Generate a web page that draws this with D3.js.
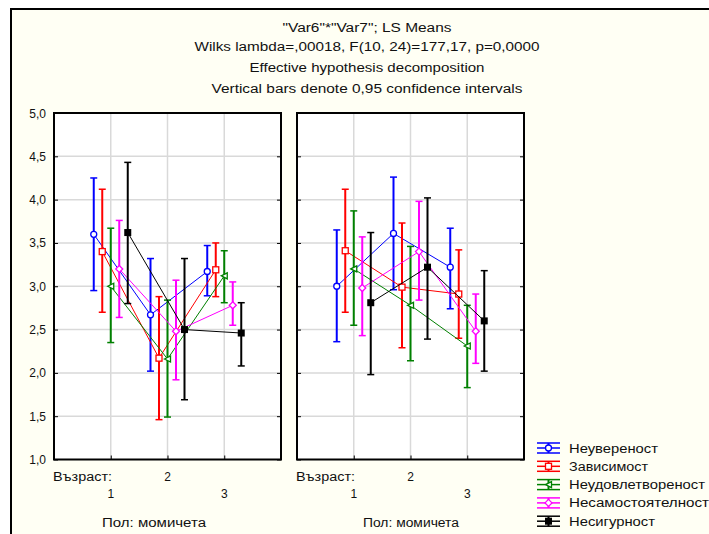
<!DOCTYPE html>
<html><head><meta charset="utf-8">
<script src="https://cdn.jsdelivr.net/npm/d3@7"></script>
<style>body{margin:0;background:#fff}svg{display:block}text{font-family:"Liberation Sans",Arial,sans-serif;fill:#111}</style>
</head><body>
<svg id="c" width="709" height="534"></svg>
<script>
const titleLines = ["\"Var6\"*\"Var7\"; LS Means","Wilks lambda=,00018, F(10, 24)=177,17, p=0,0000","Effective hypothesis decomposition","Vertical bars denote 0,95 confidence intervals"];
const categories = ["1","2","3"];
const series = ["Неувереност","Зависимост","Неудовлетвореност","Несамостоятелност","Несигурност"];
const colors = ["#0000ff","#ff0000","#008000","#ff00ff","#000000"];
const markers = ["circle","square","triangle","diamond","filled"];
const yTicks = [1,1.5,2,2.5,3,3.5,4,4.5,5];
const panelLabels = ["Пол: момичета","Пол: момичета"];
// left panel
const meanL = [[3.60,2.67,3.17],[3.40,2.17,3.19],[3.00,2.16,3.12],[3.20,2.48,2.78],[3.62,2.50,2.46]];
const lowL  = [[2.95,2.02,2.89],[2.70,1.46,2.88],[2.35,1.49,2.81],[2.64,1.92,2.55],[2.80,1.69,2.08]];
const highL = [[4.25,3.32,3.47],[4.12,2.88,3.50],[3.67,2.84,3.41],[3.76,3.07,3.05],[4.43,3.32,2.81]];
// right panel
const meanR = [[3.00,3.61,3.22],[3.41,2.99,2.91],[3.20,2.78,2.31],[2.98,3.40,2.48],[2.81,3.22,2.60]];
const lowR  = [[2.36,2.96,2.74],[2.70,2.29,2.40],[2.55,2.14,1.83],[2.43,2.84,2.11],[1.98,2.39,2.02]];
const highR = [[3.65,4.26,3.67],[4.12,3.73,3.42],[3.87,3.46,2.78],[3.57,3.98,2.91],[3.62,4.02,3.18]];

(function(){
const svg = d3.select("#c");
svg.append("rect").attr("x",11).attr("y",9).attr("width",720).attr("height",540)
  .attr("fill","#fffff4").attr("stroke","#000").attr("stroke-width",2);

const titleY=[28,47,68,89], titleW=[169,345,235,311];
titleLines.forEach((t,i)=>svg.append("text").attr("x",367).attr("y",titleY[i]+4)
  .attr("text-anchor","middle").attr("font-size",12).attr("textLength",titleW[i])
  .attr("lengthAdjust","spacingAndGlyphs").text(t));

const pTop=113, pBottom=459.5;
const y = d3.scaleLinear().domain([1,5]).range([pBottom,pTop]);
const panels=[{x0:54,x1:281,m:meanL,lo:lowL,hi:highL,labX:154,labW:104},
              {x0:297,x1:524,m:meanR,lo:lowR,hi:highR,labX:411,labW:96}];
const off = d3.scalePoint().domain(series).range([-17,17]);

function drawMarker(g,type,cx,cy,c){
  const r=3;
  if(type==="circle") g.append("circle").attr("cx",cx).attr("cy",cy).attr("r",r).attr("fill","#fff").attr("stroke",c).attr("stroke-width",1.3);
  else if(type==="square") g.append("rect").attr("x",cx-r).attr("y",cy-r).attr("width",2*r).attr("height",2*r).attr("fill","#fff").attr("stroke",c).attr("stroke-width",1.3);
  else if(type==="triangle") g.append("path").attr("d",`M${cx-r},${cy}L${cx+r},${cy-r}L${cx+r},${cy+r}Z`).attr("fill","#fff").attr("stroke",c).attr("stroke-width",1.3);
  else if(type==="diamond") g.append("path").attr("d",`M${cx},${cy-r-0.5}L${cx+r+0.5},${cy}L${cx},${cy+r+0.5}L${cx-r-0.5},${cy}Z`).attr("fill","#fff").attr("stroke",c).attr("stroke-width",1.3);
  else g.append("rect").attr("x",cx-r-0.5).attr("y",cy-r-0.5).attr("width",2*r+1).attr("height",2*r+1).attr("fill",c);
}

panels.forEach((p,pi)=>{
  const x = d3.scalePoint().domain(categories).range([p.x0,p.x1]).padding(1);
  const g = svg.append("g");
  g.append("rect").attr("x",p.x0).attr("y",pTop).attr("width",p.x1-p.x0).attr("height",pBottom-pTop).attr("fill","#fff");
  g.selectAll(".hg").data(yTicks.slice(1,-1)).join("line")
    .attr("x1",p.x0).attr("x2",p.x1).attr("y1",d=>y(d)).attr("y2",d=>y(d))
    .attr("stroke","#d9d9d9").attr("stroke-width",1.5);
  g.selectAll(".vg").data(categories).join("line")
    .attr("x1",d=>x(d)).attr("x2",d=>x(d)).attr("y1",pTop).attr("y2",pBottom)
    .attr("stroke","#d9d9d9").attr("stroke-width",1.5);
  g.append("g").attr("transform",`translate(${p.x0},0)`).call(d3.axisRight(y).tickValues(yTicks).tickSize(4).tickFormat(""))
    .call(a=>a.select(".domain").remove());
  g.append("g").attr("transform",`translate(${p.x1},0)`).call(d3.axisLeft(y).tickValues(yTicks).tickSize(4).tickFormat(""))
    .call(a=>a.select(".domain").remove());
  g.append("g").attr("transform",`translate(0,${pBottom})`).call(d3.axisTop(x).tickSize(4).tickFormat(""))
    .call(a=>a.select(".domain").remove());
  g.append("rect").attr("x",p.x0).attr("y",pTop).attr("width",p.x1-p.x0).attr("height",pBottom-pTop)
    .attr("fill","none").attr("stroke","#000").attr("stroke-width",2);
  series.forEach((s,si)=>{
    const c=colors[si];
    const pts=categories.map((cat,ci)=>({x:x(cat)+off(s),m:p.m[si][ci],lo:p.lo[si][ci],hi:p.hi[si][ci]}));
    g.append("path").attr("d",d3.line().x(d=>d.x).y(d=>y(d.m))(pts)).attr("fill","none").attr("stroke",c).attr("stroke-width",1);
    pts.forEach(d=>{
      g.append("line").attr("x1",d.x).attr("x2",d.x).attr("y1",y(d.lo)).attr("y2",y(d.hi)).attr("stroke",c).attr("stroke-width",2);
      [d.lo,d.hi].forEach(v=>g.append("line").attr("x1",d.x-3.5).attr("x2",d.x+3.5).attr("y1",y(v)).attr("y2",y(v)).attr("stroke",c).attr("stroke-width",1.5));
      drawMarker(g,markers[si],d.x,y(d.m),c);
    });
  });
  svg.append("text").attr("x",p.x0-1).attr("y",481).attr("font-size",12).attr("textLength",59).attr("lengthAdjust","spacingAndGlyphs").text("Възраст:");
  categories.forEach((cat,ci)=>svg.append("text").attr("x",x(cat)).attr("y",ci===1?481:498).attr("text-anchor","middle").attr("font-size",12).text(cat));
  svg.append("text").attr("x",p.labX).attr("y",527).attr("text-anchor","middle").attr("font-size",12).attr("textLength",p.labW).attr("lengthAdjust","spacingAndGlyphs").text(panelLabels[pi]);
});

svg.selectAll(".yl").data(yTicks).join("text").attr("x",46).attr("y",d=>y(d)+4.5)
  .attr("text-anchor","end").attr("font-size",12).text(d=>d3.format(".1f")(d).replace(".",","));

const legW=[89,79,136,140,86];
series.forEach((s,i)=>{
  const ly=448+i*18.3, c=colors[i];
  const lg=svg.append("g");
  [-5,0,5].forEach(dy=>lg.append("line").attr("x1",537).attr("x2",560).attr("y1",ly+dy).attr("y2",ly+dy).attr("stroke",c).attr("stroke-width",1.5));
  lg.append("line").attr("x1",548.5).attr("x2",548.5).attr("y1",ly-5).attr("y2",ly+5).attr("stroke",c).attr("stroke-width",2);
  drawMarker(lg,markers[i],548.5,ly,c);
  svg.append("text").attr("x",569).attr("y",ly+4.5).attr("font-size",12).attr("textLength",legW[i]).attr("lengthAdjust","spacingAndGlyphs").text(s);
});
})();
</script>
</body></html>
